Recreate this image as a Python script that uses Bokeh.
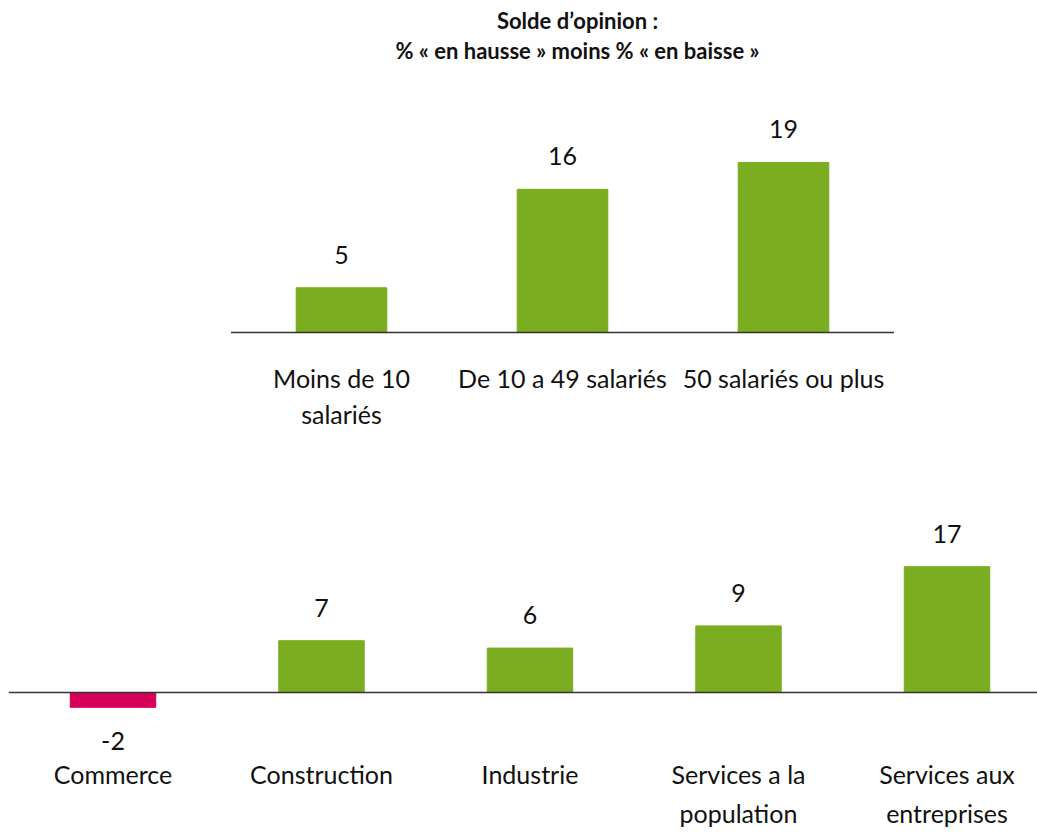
from bokeh.plotting import figure
from bokeh.models import ColumnDataSource, Label
from bokeh.layouts import column
from bokeh.core.properties import value
from bokeh.embed import file_html
from bokeh.resources import INLINE

# ---- data ----
title_lines = ["Solde d\u2019opinion :", "% \u00ab en hausse \u00bb moins % \u00ab en baisse \u00bb"]

size_categories = ["Moins de 10\nsalari\u00e9s", "De 10 a 49 salari\u00e9s", "50 salari\u00e9s ou plus"]
size_values = [5, 16, 19]

sector_categories = ["Commerce", "Construction", "Industrie", "Services a la\npopulation", "Services aux\nentreprises"]
sector_values = [-2, 7, 6, 9, 17]

GREEN = "#7AAD1F"
PINK = "#D6005A"
FONT = "Lato"
TXT = "#111111"
W = 1037


def make_source(cats, vals):
    return ColumnDataSource(dict(
        x=list(range(len(cats))),
        cat=cats,
        v=vals,
        label=[str(v) for v in vals],
        color=[GREEN if v >= 0 else PINK for v in vals],
        lab_off=[-33 if v >= 0 else 25 for v in vals],
        lab_base=["alphabetic" if v >= 0 else "top" for v in vals],
    ))


def base_fig(h, xr, yr):
    p = figure(width=W, height=h, x_range=xr, y_range=yr, output_backend="svg",
               toolbar_location=None, min_border=0)
    p.axis.visible = False
    p.grid.visible = False
    p.outline_line_color = None
    p.background_fill_color = "white"
    p.border_fill_color = "white"
    return p


# ---- top chart ----
H1 = 448
sp1 = 221.0
x0 = -341 / sp1
top = base_fig(H1, (x0, x0 + W / sp1), (-(H1 - 332) / 8.95, 332 / 8.95))
s1 = make_source(size_categories, size_values)
top.vbar(x="x", top="v", bottom=0, width=0.41, color="color", source=s1)
n1 = len(size_categories)
top.segment(x0=[-0.5], y0=[0], x1=[n1 - 0.5], y1=[0], line_color="#333333", line_width=1.5)
top.text(x="x", y="v", text="label", source=s1, y_offset="lab_off", text_baseline="lab_base",
         text_align="center", text_font=value(FONT), text_font_size="25px", text_color=TXT)
top.text(x="x", y=0, text="cat", source=s1, y_offset=30, text_baseline="top",
         text_align="center", text_font=value(FONT), text_font_size="25px",
         text_line_height=1.2, text_color=TXT)

for t, yy in zip(title_lines, [H1 - 20, H1 - 50]):
    top.add_layout(Label(x=577, y=yy, x_units="screen", y_units="screen", text=t,
                         text_align="center", text_baseline="middle", text_font=FONT,
                         text_font_size="22px", text_font_style="bold", text_color=TXT))

# ---- bottom chart ----
H2 = 384
sp2 = 208.5
x1 = -112.5 / sp2
bot = base_fig(H2, (x1, x1 + W / sp2), (-(H2 - 244) / 7.4, 244 / 7.4))
s2 = make_source(sector_categories, sector_values)
bot.vbar(x="x", top="v", bottom=0, width=0.41, color="color", source=s2)
n2 = len(sector_categories)
bot.segment(x0=[-0.5], y0=[0], x1=[n2 - 0.5], y1=[0], line_color="#333333", line_width=1.5)
bot.text(x="x", y="v", text="label", source=s2, y_offset="lab_off", text_baseline="lab_base",
         text_align="center", text_font=value(FONT), text_font_size="25px", text_color=TXT)
bot.text(x="x", y=0, text="cat", source=s2, y_offset=66, text_baseline="top",
         text_align="center", text_font=value(FONT), text_font_size="25px",
         text_line_height=1.33, text_color=TXT)

layout = column(top, bot, spacing=0)
open("out.html", "w").write(file_html(layout, INLINE))
